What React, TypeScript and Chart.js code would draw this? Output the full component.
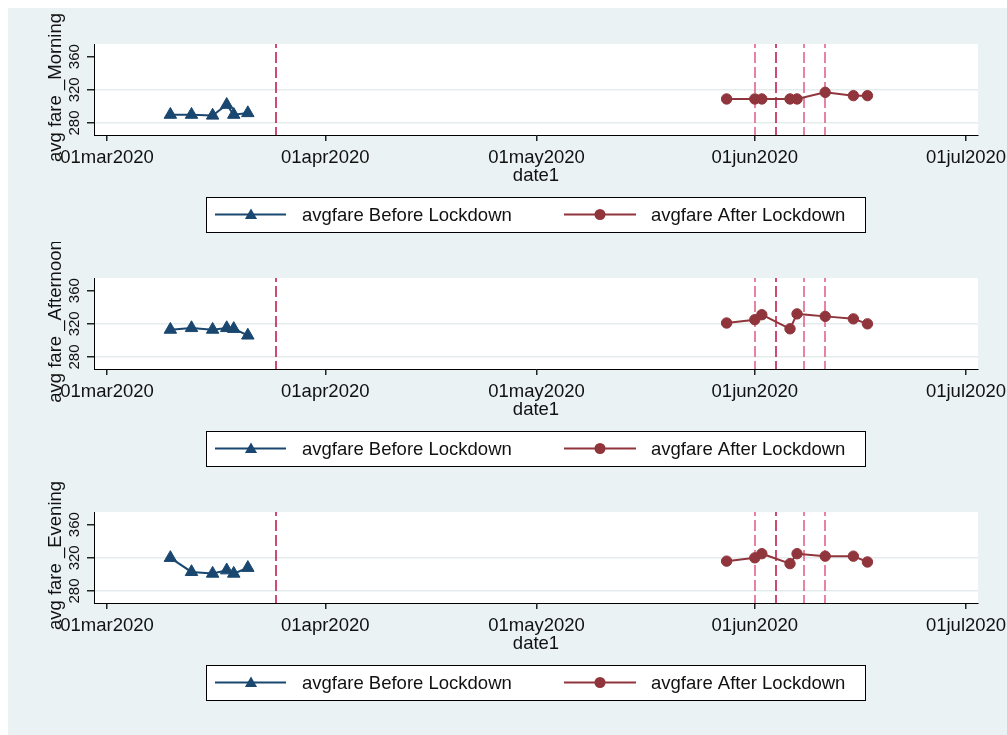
import React, { useEffect, useRef } from 'react';
import { Chart, registerables } from 'chart.js';

Chart.register(...registerables);

// ---------------- data ----------------
const beforeDates = ['2020-03-10', '2020-03-13', '2020-03-16', '2020-03-18', '2020-03-19', '2020-03-21'];
const afterDates = ['2020-05-28', '2020-06-01', '2020-06-02', '2020-06-06', '2020-06-07', '2020-06-11', '2020-06-15', '2020-06-17'];

const morningBefore = [290, 290, 289, 302, 290, 292];
const morningAfter = [309, 309, 309, 309, 309, 317, 313, 313];
const afternoonBefore = [313, 315, 313, 315, 314, 306];
const afternoonAfter = [321, 325, 331, 314, 332, 329, 326, 320];
const eveningBefore = [320, 303, 301, 305, 301, 308];
const eveningAfter = [316, 320, 325, 313, 325, 322, 322, 315];

const eventDates = ['2020-03-25', '2020-06-01', '2020-06-04', '2020-06-08', '2020-06-11'];
const eventColors = ['#C21F4E', '#E2648E', '#C21F4E', '#E2648E', '#E2648E'];

const xTickDates = ['2020-03-01', '2020-04-01', '2020-05-01', '2020-06-01', '2020-07-01'];
const xTickLabels = ['01mar2020', '01apr2020', '01may2020', '01jun2020', '01jul2020'];
const yTicks = [280, 320, 360];
const yGridTicks = [280, 320];

const panelTitles = ['avg fare _Morning', 'avg fare _Afternoon', 'avg fare _Evening'];
const legendLabels = ['avgfare Before Lockdown', 'avgfare After Lockdown'];
const xTitle = 'date1';

// ---------------- style ----------------
const NAVY = '#1A476F';
const MAROON = '#90353B';
const GRID = '#E4ECEE';
const BG = '#EAF2F3';
const FONT = '"Liberation Sans", Arial, sans-serif';
const W = 999;
const H = 234;

const ORIGIN = Date.UTC(2020, 2, 1);
const dayOf = (s: string) => {
  const [y, m, d] = s.split('-').map(Number);
  return (Date.UTC(y, m - 1, d) - ORIGIN) / 86400000;
};

const X_MIN = -1.846;
const X_MAX = 123.7;
const Y_MIN = 265.5;
const Y_MAX = 375.3;

function drawTriangle(ctx: CanvasRenderingContext2D, x: number, y: number, r: number) {
  ctx.beginPath();
  for (let k = 0; k < 3; k++) {
    const a = (k * 2 * Math.PI) / 3;
    const px = x + Math.sin(a) * r;
    const py = y - Math.cos(a) * r;
    if (k === 0) ctx.moveTo(px, py);
    else ctx.lineTo(px, py);
  }
  ctx.closePath();
  ctx.fill();
}

function makePlugin(title: string) {
  return {
    id: 'panelDeco',
    beforeDraw(chart: any) {
      const { ctx, chartArea: a } = chart;
      ctx.save();
      ctx.fillStyle = '#ffffff';
      ctx.fillRect(a.left, a.top, a.right - a.left, a.bottom - a.top);
      ctx.restore();
    },
    beforeDatasetsDraw(chart: any) {
      const { ctx, chartArea: a } = chart;
      const xs = chart.scales.x;
      ctx.save();
      ctx.beginPath();
      ctx.rect(a.left, a.top, a.right - a.left, a.bottom - a.top);
      ctx.clip();
      ctx.lineWidth = 1.6;
      ctx.setLineDash([11, 4]);
      ctx.lineDashOffset = 7;
      eventDates.forEach((d, i) => {
        const x = Math.round(xs.getPixelForValue(dayOf(d)));
        ctx.strokeStyle = eventColors[i];
        ctx.beginPath();
        ctx.moveTo(x, a.top);
        ctx.lineTo(x, a.bottom);
        ctx.stroke();
      });
      ctx.restore();
    },
    afterDraw(chart: any) {
      const { ctx, chartArea: a } = chart;
      const ys = chart.scales.y;
      ctx.save();
      ctx.fillStyle = '#111';
      // y tick labels, rotated
      ctx.font = `15px ${FONT}`;
      ctx.textAlign = 'center';
      ctx.textBaseline = 'middle';
      yTicks.forEach((v) => {
        const y = ys.getPixelForValue(v);
        ctx.save();
        ctx.translate(67, y);
        ctx.rotate(-Math.PI / 2);
        ctx.fillText(String(v), 0, 0);
        ctx.restore();
      });
      // y title
      ctx.font = `18.5px ${FONT}`;
      ctx.save();
      ctx.translate(48, (a.top + a.bottom) / 2 - 2);
      ctx.rotate(-Math.PI / 2);
      ctx.fillText(title, 0, 0);
      ctx.restore();

      // legend
      const bx = 198, by = 189, bw = 659, bh = 35;
      ctx.fillStyle = '#ffffff';
      ctx.fillRect(bx, by, bw, bh);
      ctx.strokeStyle = '#000';
      ctx.lineWidth = 1;
      ctx.strokeRect(bx + 0.5, by + 0.5, bw, bh);
      const cy = by + bh / 2;
      // before sample
      ctx.strokeStyle = NAVY;
      ctx.fillStyle = NAVY;
      ctx.lineWidth = 2;
      ctx.beginPath();
      ctx.moveTo(207, cy);
      ctx.lineTo(278, cy);
      ctx.stroke();
      drawTriangle(ctx, 243, cy + 1, 7);
      // after sample
      ctx.strokeStyle = MAROON;
      ctx.fillStyle = MAROON;
      ctx.beginPath();
      ctx.moveTo(556, cy);
      ctx.lineTo(628, cy);
      ctx.stroke();
      ctx.beginPath();
      ctx.arc(592, cy, 5.5, 0, Math.PI * 2);
      ctx.fill();
      // legend text
      ctx.fillStyle = '#111';
      ctx.font = `18.5px ${FONT}`;
      ctx.textAlign = 'left';
      ctx.textBaseline = 'middle';
      ctx.fillText(legendLabels[0], 294, cy + 1);
      ctx.fillText(legendLabels[1], 643, cy + 1);
      ctx.restore();
    },
  };
}

function Panel({ title, before, after }: { title: string; before: number[]; after: number[] }) {
  const ref = useRef<HTMLCanvasElement>(null);
  useEffect(() => {
    const chart = new Chart(ref.current as HTMLCanvasElement, {
      type: 'line',
      data: {
        datasets: [
          {
            label: legendLabels[0],
            data: beforeDates.map((d, i) => ({ x: dayOf(d), y: before[i] })),
            borderColor: NAVY,
            backgroundColor: NAVY,
            pointBackgroundColor: NAVY,
            pointBorderColor: NAVY,
            pointStyle: 'triangle',
            pointRadius: 7.2,
            pointBorderWidth: 1,
            borderWidth: 2,
            tension: 0,
          },
          {
            label: legendLabels[1],
            data: afterDates.map((d, i) => ({ x: dayOf(d), y: after[i] })),
            borderColor: MAROON,
            backgroundColor: MAROON,
            pointBackgroundColor: MAROON,
            pointBorderColor: MAROON,
            pointStyle: 'circle',
            pointRadius: 5.2,
            pointBorderWidth: 1,
            borderWidth: 2,
            tension: 0,
          },
        ],
      } as any,
      options: {
        animation: false,
        responsive: false,
        maintainAspectRatio: false,
        layout: { padding: { left: 0, right: 29, top: 36, bottom: 52 } },
        plugins: { legend: { display: false }, tooltip: { enabled: false } },
        scales: {
          x: {
            type: 'linear',
            min: X_MIN,
            max: X_MAX,
            afterBuildTicks: (s: any) => {
              s.ticks = xTickDates.map((d) => ({ value: dayOf(d) }));
            },
            afterFit: (s: any) => {
              s.height = 55;
              s.paddingLeft = 0;
              s.paddingRight = 0;
            },
            ticks: {
              autoSkip: false,
              maxRotation: 0,
              minRotation: 0,
              padding: 6,
              color: '#111',
              font: { family: FONT, size: 18.5 },
              callback: (_v: any, i: number) => xTickLabels[i],
            },
            grid: {
              drawOnChartArea: false,
              drawTicks: true,
              tickLength: 6,
              tickColor: '#222',
              lineWidth: 1.5,
            },
            border: { display: true, color: '#000', width: 1 },
            title: {
              display: true,
              text: xTitle,
              color: '#111',
              font: { family: FONT, size: 18.5 },
              padding: { top: 0, bottom: 3 },
            },
          },
          y: {
            type: 'linear',
            min: Y_MIN,
            max: Y_MAX,
            afterBuildTicks: (s: any) => {
              s.ticks = yTicks.map((v) => ({ value: v }));
            },
            afterFit: (s: any) => {
              s.width = 86;
              s.paddingTop = 0;
              s.paddingBottom = 0;
            },
            ticks: { display: false },
            grid: {
              drawTicks: true,
              tickLength: 7,
              tickColor: '#222',
              lineWidth: 1.5,
              color: (c: any) => (c.tick && yGridTicks.includes(c.tick.value) ? GRID : 'rgba(0,0,0,0)'),
            },
            border: { display: true, color: '#000', width: 1 },
          },
        },
      } as any,
      plugins: [makePlugin(title)],
    });
    return () => chart.destroy();
  }, [title, before, after]);
  return <canvas ref={ref} width={W} height={H} style={{ display: 'block', width: W, height: H }} />;
}

export default function App() {
  return (
    <div style={{ position: 'absolute', left: 8, top: 8, width: W, height: 727, background: BG }}>
      <Panel title={panelTitles[0]} before={morningBefore} after={morningAfter} />
      <Panel title={panelTitles[1]} before={afternoonBefore} after={afternoonAfter} />
      <Panel title={panelTitles[2]} before={eveningBefore} after={eveningAfter} />
    </div>
  );
}
